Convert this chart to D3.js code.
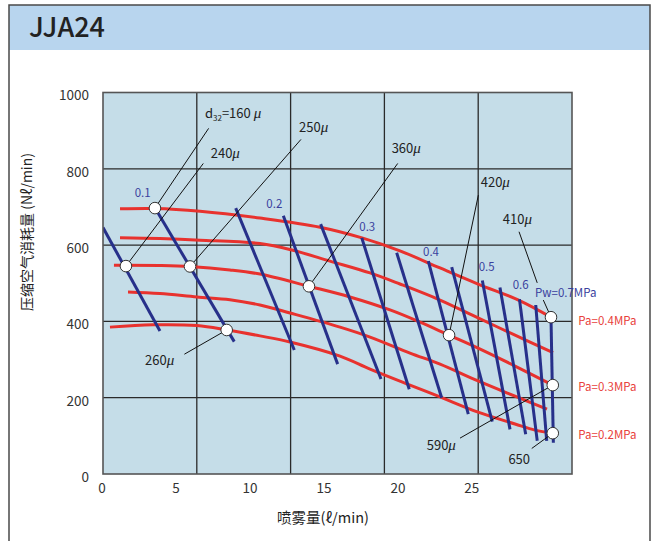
<!DOCTYPE html>
<html><head><meta charset="utf-8">
<script src="https://cdn.jsdelivr.net/npm/d3@7"></script>
<style>
body{margin:0;background:#fff}
svg{display:block}
text{font-family:"Noto Sans CJK SC","Noto Sans",sans-serif}
</style>
</head><body><svg id="c" width="658" height="541"></svg>
<script>
// ---------- data ----------
const title = "JJA24";
const xLabel = "喷雾量(ℓ/min)";
const yLabel = "压缩空气消耗量 (Nℓ/min)";
const xTicks = [0, 5, 10, 15, 20, 25];
const yTicks = [0, 200, 400, 600, 800, 1000];
const xMax = 31.7;
const yMax = 1000;

// red curves: air pressure Pa (MPa)
const paLevels = [0.4, 0.35, 0.3, 0.25, 0.2];
const paCurve040 = [[1.15,695],[3.5,696],[6.56,689],[10.61,671],[14.67,647],[17.51,619],[20.07,585],[22.78,540],[25.35,498],[28.19,454],[30.28,411]];
const paCurve035 = [[1.15,619],[3.85,617],[6.56,613],[10.61,604],[12.77,587],[15.34,558],[18.05,527],[20.07,498],[22.78,456],[25.35,409],[27.85,364],[30.42,318]];
const paCurve030 = [[0.74,547],[3.85,546.5],[5.88,544],[8.58,535],[10.61,524],[13.92,492],[16.69,464],[19.4,430],[21.43,398],[23.39,364],[25.35,330],[27.85,283],[30.4,233]];
const paCurve025 = [[1.69,477],[3.85,473],[6.35,464],[8.58,457],[10.61,443],[12.64,422],[16.02,385],[18.05,359],[20.75,317],[22.78,288],[25.35,244],[27.85,204],[30.01,170]];
const paCurve020 = [[0.47,385],[3.38,391],[6.35,389],[8.38,377.5],[10.61,362],[12.64,346],[16.02,309],[18.05,275],[20.75,233],[22.78,202],[25.35,162],[27.85,131],[29.2,115],[30.4,107]];
const paLabels = ["Pa=0.4MPa", "Pa=0.3MPa", "Pa=0.2MPa"];
const paLabelPos = [[32.13,402],[32.13,229],[32.13,103]];

// blue lines: water pressure Pw (MPa)
const pwLevels = [0.05,0.1,0.15,0.2,0.25,0.3,0.35,0.4,0.45,0.5,0.55,0.6,0.65,0.7];
const pwTop = [[0,646],[3.51,698],[8.97,697],[12.19,677],[14.71,655],[17.49,619],[19.85,580],[21.99,558],[23.57,542],[25.64,507],[26.83,489],[28.15,458],[29.25,443],[30.28,411]];
const pwBottom = [[3.85,375],[8.87,347],[12.93,325],[15.86,288],[18.79,249],[20.7,222],[22.89,200],[24.69,157],[26.31,137],[27.51,117],[28.57,104],[29.35,87],[29.99,87],[30.44,82]];
const pwLabels = ["0.1","0.2","0.3","0.4","0.5","0.6","Pw=0.7MPa"];
const pwLabelPos = [[2.68,736],[11.58,708],[17.86,648],[22.17,583],[25.93,542],[28.23,495],[29.2,475]];

// droplet size (d32) annotations
const dropLabels = ["160","240","250","260","360","420","410","590","650"];
const dropPoints = [[3.51,697],[1.55,545],[5.88,544],[8.36,377.5],[13.92,492],[23.39,364],[30.28,411],[30.4,233],[30.4,107]];
const dropLeaderEnds = [[7.14,906],[6.78,814],[13.38,877],[5.5,314],[19.92,814],[25.37,731],[28.12,635],[24.13,94],[28.98,67]];
const dropLabelPos = [[6.89,934],[7.28,827],[13.25,896],[2.84,287],[19.51,842],[25.53,753],[27.02,656],[21.88,62],[27.4,27]];
const dropLeaderGap = [[29.35,501],[29.76,456]]; // gap in the 410 leader around the Pw label

// ---------- drawing ----------
const svg = d3.select("#c");
const W = 658, H = 541;
const plot = {l: 103, r: 572, t: 92.5, b: 474};
const x = d3.scaleLinear().domain([0, xMax]).range([plot.l, plot.r]);
const y = d3.scaleLinear().domain([0, yMax]).range([plot.b, plot.t]);

const RED = "#e8322e", BLUE = "#27308a", BG = "#c5dde8";

// frame + title band
svg.append("rect").attr("x", 9).attr("y", 5).attr("width", 641).attr("height", 45).attr("fill", "#b8d5ee");
svg.append("path").attr("d", `M9,${H}V5H650V${H}`).attr("fill", "none").attr("stroke", "#4a4a4a").attr("stroke-width", 1.5);
svg.append("text").attr("x", 29).attr("y", 37).attr("font-size", 27).attr("font-weight", 500).attr("fill", "#222").text(title);

// plot background
svg.append("rect").attr("x", plot.l).attr("y", plot.t).attr("width", plot.r - plot.l).attr("height", plot.b - plot.t).attr("fill", BG);

// grid
const g = svg.append("g");
const vGrid = d3.range(1, 5).map(i => xMax * i / 5);
g.selectAll(".vg").data(vGrid).join("line")
  .attr("x1", d => x(d)).attr("x2", d => x(d)).attr("y1", plot.t).attr("y2", plot.b)
  .attr("stroke", "#2a2a2a").attr("stroke-width", 1.3);
g.selectAll(".hg").data(yTicks.slice(1, -1)).join("line")
  .attr("y1", d => y(d)).attr("y2", d => y(d)).attr("x1", plot.l).attr("x2", plot.r)
  .attr("stroke", "#2a2a2a").attr("stroke-width", 1.3);

// axes
const xa = svg.append("g").attr("transform", `translate(-1.5,${plot.b})`)
  .call(d3.axisBottom(x).tickValues(xTicks).tickFormat(d3.format("d")).tickSize(0).tickPadding(9));
const ya = svg.append("g").attr("transform", `translate(${plot.l},0)`)
  .call(d3.axisLeft(y).tickValues(yTicks).tickFormat(d3.format("d")).tickSize(0).tickPadding(14));
[xa, ya].forEach(a => {
  a.select(".domain").remove();
  a.selectAll("text").attr("font-size", 13.5).attr("fill", "#333")
   .attr("font-family", '"Noto Sans CJK SC","Noto Sans",sans-serif');
});
ya.selectAll("text").attr("dy", "0.55em");

// axis titles
svg.append("text").attr("x", 323).attr("y", 523).attr("text-anchor", "middle")
  .attr("font-size", 14.5).attr("fill", "#222").text(xLabel);
svg.append("text").attr("transform", "translate(32,232) rotate(-90)").attr("text-anchor", "middle")
  .attr("font-size", 14).attr("fill", "#222").text(yLabel);

// clip
svg.append("clipPath").attr("id", "pc").append("rect")
  .attr("x", plot.l).attr("y", plot.t).attr("width", plot.r - plot.l).attr("height", plot.b - plot.t);
const inner = svg.append("g").attr("clip-path", "url(#pc)");

// red curves
const paCurves = [paCurve040, paCurve035, paCurve030, paCurve025, paCurve020];
const line = d3.line().x(d => x(d[0])).y(d => y(d[1])).curve(d3.curveCatmullRom.alpha(0.5));
inner.selectAll(".pa").data(paCurves).join("path")
  .attr("d", line).attr("fill", "none").attr("stroke", RED).attr("stroke-width", 3);

// blue lines
inner.selectAll(".pw").data(pwLevels).join("line")
  .attr("x1", (d, i) => x(pwTop[i][0])).attr("y1", (d, i) => y(pwTop[i][1]))
  .attr("x2", (d, i) => x(pwBottom[i][0])).attr("y2", (d, i) => y(pwBottom[i][1]))
  .attr("stroke", BLUE).attr("stroke-width", 3);

// plot border
svg.append("rect").attr("x", plot.l).attr("y", plot.t).attr("width", plot.r - plot.l).attr("height", plot.b - plot.t)
  .attr("fill", "none").attr("stroke", "#555").attr("stroke-width", 1.6);

// blue labels
svg.selectAll(".pwl").data(pwLabels).join("text")
  .attr("x", (d, i) => x(pwLabelPos[i][0])).attr("y", (d, i) => y(pwLabelPos[i][1]))
  .attr("dy", "0.35em").attr("text-anchor", (d, i) => i === pwLabels.length - 1 ? "start" : "middle")
  .attr("font-size", 11.5).attr("fill", "#3a3f9e").text(d => d);

// red labels
svg.selectAll(".pal").data(paLabels).join("text")
  .attr("x", (d, i) => x(paLabelPos[i][0])).attr("y", (d, i) => y(paLabelPos[i][1]))
  .attr("dy", "0.35em").attr("font-size", 11.5).attr("fill", "#e8413c").text(d => d);

// leaders
const lead = svg.append("g").attr("stroke", "#111").attr("stroke-width", 1);
dropLabels.forEach((lab, i) => {
  const p = dropPoints[i], e = dropLeaderEnds[i];
  if (lab === "410") {
    lead.append("line").attr("x1", x(e[0])).attr("y1", y(e[1])).attr("x2", x(dropLeaderGap[0][0])).attr("y2", y(dropLeaderGap[0][1]));
    lead.append("line").attr("x1", x(dropLeaderGap[1][0])).attr("y1", y(dropLeaderGap[1][1])).attr("x2", x(p[0])).attr("y2", y(p[1]));
  } else {
    lead.append("line").attr("x1", x(e[0])).attr("y1", y(e[1])).attr("x2", x(p[0])).attr("y2", y(p[1]));
  }
});

// circles
svg.selectAll(".dp").data(dropPoints).join("circle")
  .attr("cx", d => x(d[0])).attr("cy", d => y(d[1])).attr("r", 5.8)
  .attr("fill", "#fff").attr("stroke", "#333").attr("stroke-width", 1);

// droplet labels
dropLabels.forEach((lab, i) => {
  const t = svg.append("text").attr("x", x(dropLabelPos[i][0])).attr("y", y(dropLabelPos[i][1]))
    .attr("font-size", 13).attr("fill", "#222");
  if (i === 0) {
    t.append("tspan").text("d");
    t.append("tspan").attr("font-size", 8).attr("dy", 3).text("32");
    t.append("tspan").attr("dy", -3).text("=" + lab + " ");
    t.append("tspan").attr("font-style", "italic").attr("font-family", '"Liberation Serif",serif').attr("font-size", 15).text("μ");
  } else {
    t.append("tspan").text(lab);
    if (lab !== "650") t.append("tspan").attr("font-style", "italic").attr("font-family", '"Liberation Serif",serif').attr("font-size", 15).text("μ");
  }
});
</script>
</body></html>
